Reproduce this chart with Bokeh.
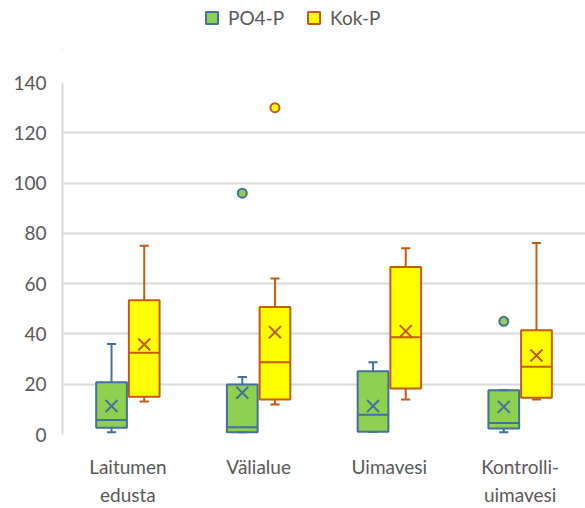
from bokeh.plotting import figure
from bokeh.layouts import column
from bokeh.models import (FactorRange, Range1d, ColumnDataSource, CategoricalAxis,
                          Legend, LegendItem, FixedTicker)
from bokeh.transform import dodge
from bokeh.embed import file_html
from bokeh.resources import INLINE

# ---------------- data ----------------
categories = ["Laitumen edusta", "Välialue", "Uimavesi", "Kontrolli-uimavesi"]
label_line1 = ["Laitumen", "Välialue", "Uimavesi", "Kontrolli-"]
label_line2 = ["edusta", " ", "  ", "uimavesi"]
series = ["PO4-P", "Kok-P"]
y_ticks = [0, 20, 40, 60, 80, 100, 120, 140]

po4_lower = [0.9, 0.9, 1.0, 0.9]
po4_q1 = [2.7, 0.9, 1.1, 2.4]
po4_median = [5.8, 2.9, 7.9, 4.6]
po4_q3 = [20.8, 19.9, 25.2, 17.6]
po4_upper = [36.0, 22.9, 28.7, 17.6]
po4_mean = [11.3, 16.6, 11.3, 11.0]
po4_outlier_cat = ["Välialue", "Kontrolli-uimavesi"]
po4_outlier_val = [96.0, 45.0]

kok_lower = [13.1, 11.9, 13.9, 13.9]
kok_q1 = [15.0, 13.9, 18.3, 14.6]
kok_median = [32.5, 28.7, 38.7, 26.9]
kok_q3 = [53.4, 50.7, 66.6, 41.5]
kok_upper = [75.1, 62.0, 74.1, 76.2]
kok_mean = [35.8, 40.7, 41.1, 31.4]
kok_outlier_cat = ["Välialue"]
kok_outlier_val = [130.0]

# ---------------- styles ----------------
FONT = "Lato"
FS = "19px"
TXT = "#595959"
GRID = "#d9d9d9"
PO4_FILL, PO4_LINE = "#8fd050", "#41719c"
KOK_FILL, KOK_LINE = "#ffff00", "#c55a11"
OFF = 0.125
BOX_W = 0.235
CAP_W = 0.07
LEG_H = 50

# ---------------- legend strip ----------------
lf = figure(width=585, height=LEG_H, output_backend="svg", toolbar_location=None,
            min_border=0, x_range=Range1d(0, 1), y_range=Range1d(0, 1),
            x_axis_location=None, y_axis_location=None)
lf.grid.visible = False
lf.outline_line_color = None
# legend-only swatches, kept outside the visible range of the strip
r1 = lf.vbar(x=[-5], top=[-5], bottom=[-6], width=0.1,
             fill_color=PO4_FILL, line_color=PO4_LINE, line_width=2)
r2 = lf.vbar(x=[-5], top=[-5], bottom=[-6], width=0.1,
             fill_color=KOK_FILL, line_color=KOK_LINE, line_width=2)
legend = Legend(items=[LegendItem(label=series[0], renderers=[r1]),
                       LegendItem(label=series[1], renderers=[r2])],
                orientation="horizontal", location=(142, 21),
                glyph_width=15, glyph_height=15, label_standoff=9,
                spacing=22, padding=5, margin=0,
                label_text_font=FONT, label_text_font_size=FS,
                label_text_color=TXT, border_line_color=None,
                background_fill_alpha=0)
lf.add_layout(legend, "center")

# ---------------- main plot ----------------
p = figure(x_range=FactorRange(factors=categories, range_padding=0),
           y_range=Range1d(0, 140), width=585, height=508 - LEG_H,
           output_backend="svg", toolbar_location=None,
           x_axis_location=None,
           min_border_left=62, min_border_top=82 - LEG_H, min_border_bottom=73,
           min_border_right=0)
p.outline_line_color = None
p.background_fill_color = "white"
p.xgrid.grid_line_color = None
p.ygrid.grid_line_color = GRID
p.ygrid.grid_line_width = 2
p.ygrid.ticker = FixedTicker(ticks=y_ticks)

ya = p.yaxis[0]
ya.ticker = FixedTicker(ticks=y_ticks)
ya.axis_line_color = GRID
ya.axis_line_width = 2
ya.major_tick_line_color = None
ya.minor_tick_line_color = None
ya.major_tick_out = 0
ya.major_label_standoff = 16
ya.major_label_text_font = FONT
ya.major_label_text_font_size = FS
ya.major_label_text_color = TXT

p.extra_x_ranges = {
    "line1": FactorRange(factors=label_line1, range_padding=0),
    "line2": FactorRange(factors=label_line2, range_padding=0),
}
ax1 = CategoricalAxis(x_range_name="line1")
ax2 = CategoricalAxis(x_range_name="line2")
for ax, st in ((ax1, 20), (ax2, 2)):
    ax.axis_line_color = None
    ax.major_tick_line_color = None
    ax.minor_tick_line_color = None
    ax.major_tick_out = 0
    ax.major_tick_in = 0
    ax.major_label_standoff = st
    ax.major_label_text_font = FONT
    ax.major_label_text_font_size = FS
    ax.major_label_text_color = TXT
p.add_layout(ax1, "below")
p.add_layout(ax2, "below")


def draw(lower, q1, med, q3, upper, mean, ocat, oval, off, fill, line):
    src = ColumnDataSource(dict(cat=categories, lower=lower, q1=q1, med=med,
                                q3=q3, upper=upper, mean=mean))
    xr = p.x_range
    xc = dodge("cat", off, range=xr)
    p.segment(x0=xc, x1=xc, y0="q3", y1="upper", source=src,
              line_color=line, line_width=2)
    p.segment(x0=xc, x1=xc, y0="lower", y1="q1", source=src,
              line_color=line, line_width=2)
    p.vbar(x=xc, width=BOX_W, top="q3", bottom="q1", source=src,
           fill_color=fill, line_color=line, line_width=2)
    for key in ("upper", "lower"):
        p.segment(x0=dodge("cat", off - CAP_W / 2, range=xr),
                  x1=dodge("cat", off + CAP_W / 2, range=xr),
                  y0=key, y1=key, source=src, line_color=line, line_width=2)
    p.segment(x0=dodge("cat", off - BOX_W / 2, range=xr),
              x1=dodge("cat", off + BOX_W / 2, range=xr),
              y0="med", y1="med", source=src, line_color=line, line_width=2)
    p.scatter(x=xc, y="mean", source=src, marker="x", size=17,
              line_color=line, line_width=2)
    osrc = ColumnDataSource(dict(cat=ocat, val=oval))
    p.scatter(x=dodge("cat", off, range=xr), y="val", source=osrc,
              marker="circle", size=9, fill_color=fill, line_color=line,
              line_width=2)


draw(po4_lower, po4_q1, po4_median, po4_q3, po4_upper, po4_mean,
     po4_outlier_cat, po4_outlier_val, -OFF, PO4_FILL, PO4_LINE)
draw(kok_lower, kok_q1, kok_median, kok_q3, kok_upper, kok_mean,
     kok_outlier_cat, kok_outlier_val, OFF, KOK_FILL, KOK_LINE)

layout = column(lf, p, spacing=0)
open("out.html", "w").write(file_html(layout, INLINE))
